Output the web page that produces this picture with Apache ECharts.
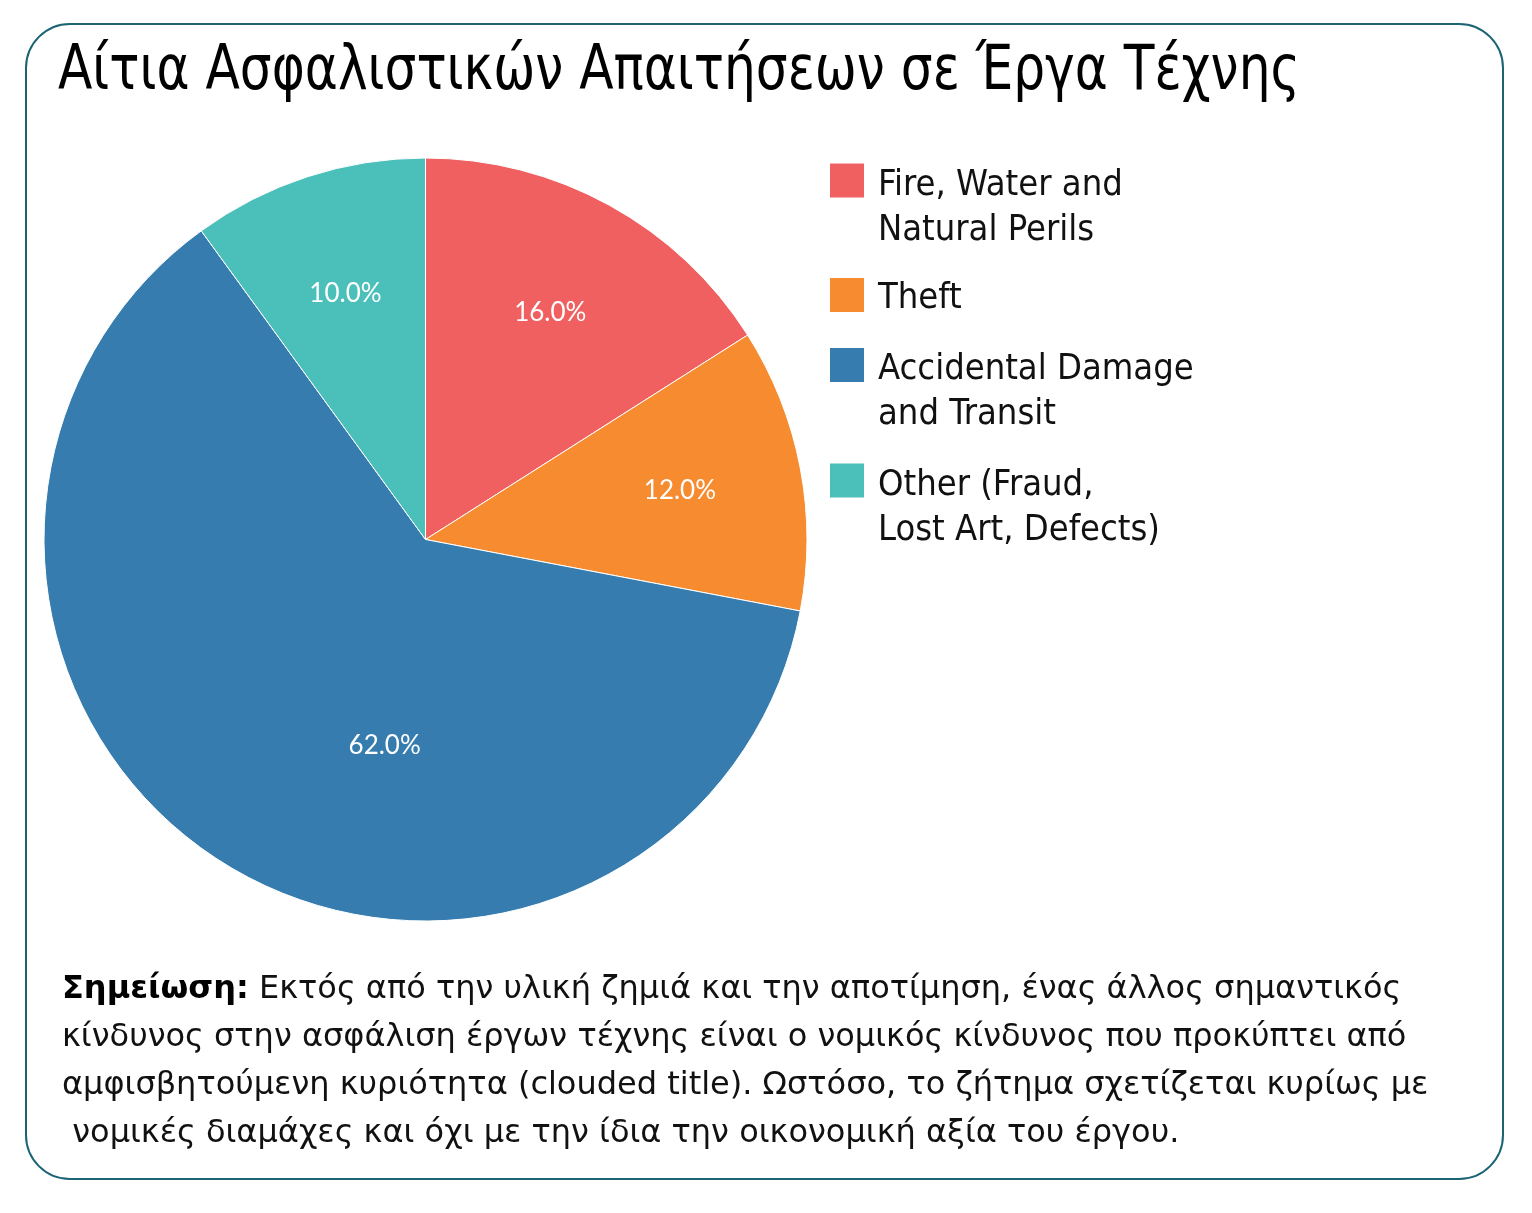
<!DOCTYPE html>
<html>
<head>
<meta charset="utf-8">
<script src="https://cdn.jsdelivr.net/npm/echarts@6/dist/echarts.min.js"></script>
<style>
html,body{margin:0;padding:0;background:#fff;}
#chart{width:1532px;height:1213px;}
</style>
</head>
<body>
<div id="chart"></div>
<script>
const titleText = 'Αίτια Ασφαλιστικών Απαιτήσεων σε Έργα Τέχνης';
const categories = ['Fire, Water and\nNatural Perils', 'Theft', 'Accidental Damage\nand Transit', 'Other (Fraud,\nLost Art, Defects)'];
const values = [16.0, 12.0, 62.0, 10.0];
const colors = ['#F06060', '#F68B30', '#367CAE', '#4BBFB9'];
const noteBold = 'Σημείωση:';
const noteLines = [
  ' Εκτός από την υλική ζημιά και την αποτίμηση, ένας άλλος σημαντικός',
  'κίνδυνος στην ασφάλιση έργων τέχνης είναι ο νομικός κίνδυνος που προκύπτει από',
  'αμφισβητούμενη κυριότητα (clouded title). Ωστόσο, το ζήτημα σχετίζεται κυρίως με',
  ' νομικές διαμάχες και όχι με την ίδια την οικονομική αξία του έργου.'
];

const COND = "'DejaVu Sans Condensed', 'DejaVu Sans', sans-serif";
const NOTE_FONT = "'DejaVu Sans', sans-serif";
const chart = echarts.init(document.getElementById('chart'), null, {renderer: 'canvas'});

const legendTops = [117.5, 269.5, 302, 417.5];
const legends = categories.map((c, i) => {
  const lines = c.split('\n');
  const twoLine = lines.length > 1;
  return {
    data: [c],
    orient: 'vertical',
    left: 828,
    top: legendTops[i],
    padding: 0,
    itemWidth: 36,
    itemHeight: 36,
    icon: 'rect',
    selectedMode: false,
    formatter: () => (twoLine ? '{e| }\n' : '{s| }\n') + lines.map(l => '{t|' + l + '}').join('\n'),
    textStyle: {
      fontFamily: COND,
      fontSize: 36,
      color: '#111',
      padding: [0, 0, 0, 8],
      rich: {
        e: {fontFamily: COND, fontSize: 36, lineHeight: 55},
        s: {fontFamily: COND, fontSize: 6, lineHeight: 8},
        t: {fontFamily: COND, fontSize: 36, lineHeight: 45, color: '#111'}
      }
    }
  };
});

const labelFmt = p => p.value.toFixed(1) + '%';
const mainData = categories.map((c, i) => ({
  name: c, value: values[i],
  label: values[i] > 50 ? {show: true, offset: [63, 43]} : {show: false}
}));
const labelData = categories.map((c, i) => ({
  name: c, value: values[i],
  label: {show: values[i] <= 50}
}));
const labelStyle = {position: 'inside', color: '#fff', fontFamily: 'Lato', fontWeight: 'normal', fontSize: 26, formatter: labelFmt};

const option = {
  animation: false,
  color: colors,
  legend: legends,
  graphic: [
    {
      type: 'rect',
      shape: {x: 26, y: 24, width: 1477, height: 1155, r: 44},
      style: {fill: 'none', stroke: '#1C6474', lineWidth: 2},
      silent: true, z: -1
    },
    {
      type: 'text',
      x: 58, y: 42,
      scaleX: 0.9,
      style: {
        text: titleText,
        fontFamily: COND, fontSize: 62, fill: '#000',
        verticalAlign: 'top'
      }
    },
    {
      type: 'text',
      x: 62, y: 966,
      style: {
        text: '{b|' + noteBold + '}{n|' + noteLines[0] + '}\n' + noteLines.slice(1).map(l => '{n|' + l + '}').join('\n'),
        rich: {
          b: {fontFamily: NOTE_FONT, fontSize: 32, fontWeight: 'bold', lineHeight: 48, fill: '#000'},
          n: {fontFamily: NOTE_FONT, fontSize: 32, lineHeight: 48, fill: '#111'}
        },
        verticalAlign: 'top'
      }
    }
  ],
  series: [
    {
      type: 'pie',
      center: [425.5, 539.5],
      radius: [0, 381.5],
      startAngle: 90,
      clockwise: true,
      data: mainData,
      itemStyle: {borderColor: '#fff', borderWidth: 1},
      label: labelStyle,
      labelLine: {show: false},
      emphasis: {disabled: true}
    },
    {
      type: 'pie',
      center: [425.5, 539.5],
      radius: [0, 512],
      startAngle: 90,
      clockwise: true,
      silent: true,
      data: labelData,
      itemStyle: {color: 'rgba(0,0,0,0)'},
      label: labelStyle,
      labelLine: {show: false},
      emphasis: {disabled: true},
      legendHoverLink: false
    }
  ]
};
chart.setOption(option);
</script>
</body>
</html>
